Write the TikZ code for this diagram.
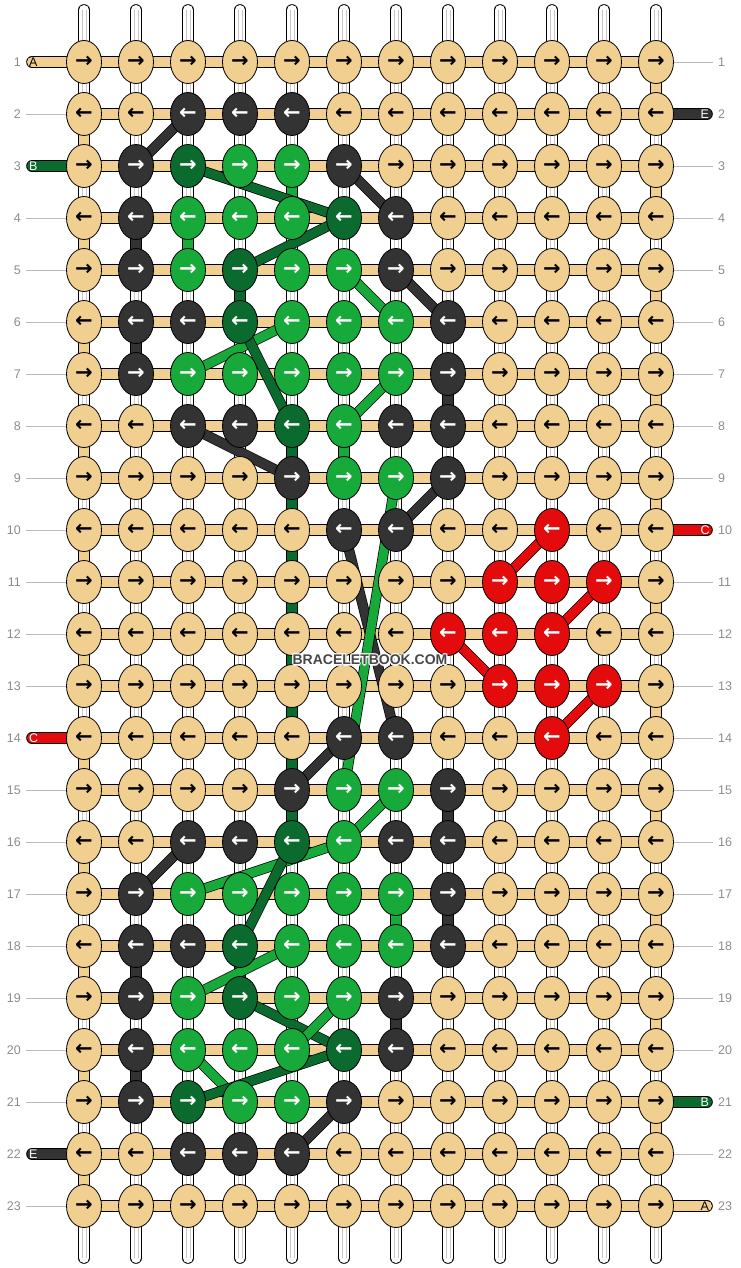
\documentclass[tikz,border=0pt]{standalone}
\usepackage{fontspec}
\setmainfont{Liberation Sans}
\newfontfamily\arrowfont{DejaVu Sans}
\usetikzlibrary{shapes.geometric}
\definecolor{cT}{HTML}{F1CF91}
\definecolor{cK}{HTML}{333333}
\definecolor{cG}{HTML}{18A93B}
\definecolor{cD}{HTML}{0B6A2E}
\definecolor{cR}{HTML}{E30B0B}
\colorlet{aT}{black}
\colorlet{aK}{white}
\colorlet{aG}{white}
\colorlet{aD}{white}
\colorlet{aR}{white}
\definecolor{numgray}{HTML}{8C8C8C}
\definecolor{linegray}{HTML}{BBBBBB}
\pgfdeclarelayer{warplayer}
\pgfdeclarelayer{seglayer}
\pgfdeclarelayer{barlayer}
\pgfdeclarelayer{diaglayer}
\pgfdeclarelayer{toplayer}
\pgfsetlayers{warplayer,seglayer,barlayer,diaglayer,main,toplayer}
\begin{document}
\begin{tikzpicture}[x=1pt,y=-1pt,
  knot/.style={ellipse, draw=black, line width=0.8pt, minimum width=35pt, minimum height=43pt, inner sep=0pt,
    font=\arrowfont\bfseries\fontsize{21}{21}\selectfont},
  warp/.style={line width=0.8pt, draw=black, double=white, double distance=10pt, line cap=round},
  seg/.style={line width=0.8pt, draw=black, double distance=10pt},
  stub/.style={line width=0.8pt, draw=black, double distance=10pt, line cap=round},
  diag/.style={line width=0.7pt, draw=black, double distance=9pt},
  rownum/.style={font=\fontsize{12.5}{12.5}\selectfont, text=numgray, inner sep=0pt},
  stublabel/.style={font=\fontsize{12.5}{12.5}\selectfont, inner sep=0pt, anchor=west},
  guide/.style={draw=linegray, line width=0.7pt},
  wmark/.style={font=\bfseries\fontsize{14}{14}\selectfont, inner sep=0pt}
]
\useasboundingbox (0,0) rectangle (740,1268);

% knots
\foreach \r/\row in {
1/{T,T,T,T,T,T,T,T,T,T,T,T},
2/{T,T,K,K,K,T,T,T,T,T,T,T},
3/{T,K,D,G,G,K,T,T,T,T,T,T},
4/{T,K,G,G,G,D,K,T,T,T,T,T},
5/{T,K,G,D,G,G,K,T,T,T,T,T},
6/{T,K,K,D,G,G,G,K,T,T,T,T},
7/{T,K,G,G,G,G,G,K,T,T,T,T},
8/{T,T,K,K,D,G,K,K,T,T,T,T},
9/{T,T,T,T,K,G,G,K,T,T,T,T},
10/{T,T,T,T,T,K,K,T,T,R,T,T},
11/{T,T,T,T,T,T,T,T,R,R,R,T},
12/{T,T,T,T,T,T,T,R,R,R,T,T},
13/{T,T,T,T,T,T,T,T,R,R,R,T},
14/{T,T,T,T,T,K,K,T,T,R,T,T},
15/{T,T,T,T,K,G,G,K,T,T,T,T},
16/{T,T,K,K,D,G,K,K,T,T,T,T},
17/{T,K,G,G,G,G,G,K,T,T,T,T},
18/{T,K,K,D,G,G,G,K,T,T,T,T},
19/{T,K,G,D,G,G,K,T,T,T,T,T},
20/{T,K,G,G,G,D,K,T,T,T,T,T},
21/{T,K,D,G,G,K,T,T,T,T,T,T},
22/{T,T,K,K,K,T,T,T,T,T,T,T},
23/{T,T,T,T,T,T,T,T,T,T,T,T}}{
  \foreach \k [count=\c] in \row {
    \ifodd\r\relax
      \node[knot, fill=c\k, text=a\k] (k-\r-\c) at ({32+52*\c},{10+52*\r}) {→};
    \else
      \node[knot, fill=c\k, text=a\k] (k-\r-\c) at ({32+52*\c},{10+52*\r}) {←};
    \fi
  }
}

% warp strands
\begin{pgfonlayer}{warplayer}
\foreach \c in {1,...,12}{
  \coordinate (top-\c) at ({32+52*\c},10);
  \coordinate (bot-\c) at ({32+52*\c},1258);
  \draw[warp] (top-\c) -- (bot-\c);
  \draw[draw=black!22, line width=0.7pt] ([xshift=-2pt]top-\c) -- ([xshift=-2pt]bot-\c);
  \draw[draw=black!22, line width=0.7pt] ([xshift=2pt]top-\c) -- ([xshift=2pt]bot-\c);
}
\end{pgfonlayer}

% coloured vertical segments
\begin{pgfonlayer}{seglayer}
\foreach \r in {1,3,...,21}{
  \pgfmathtruncatemacro{\rr}{\r+1}
  \draw[seg, double=cT] (k-\r-12.center) -- (k-\rr-12.center);
}
\foreach \r in {2,4,...,22}{
  \pgfmathtruncatemacro{\rr}{\r+1}
  \draw[seg, double=cT] (k-\r-1.center) -- (k-\rr-1.center);
}
\foreach \x/\r/\c in {G/3/5, K/4/2, G/4/3, D/5/4, K/6/2, K/7/8, D/8/5, G/8/6,
  D/9/5, D/10/5, D/11/5, D/12/5, D/13/5, D/14/5, D/15/5,
  K/15/8, G/17/7, K/17/8, K/18/2, D/18/4, K/19/7, K/20/2}{
  \pgfmathtruncatemacro{\rr}{\r+1}
  \draw[seg, double=c\x] (k-\r-\c.center) -- (k-\rr-\c.center);
}
\end{pgfonlayer}

% weft bars and end stubs
\begin{pgfonlayer}{barlayer}
\foreach \r in {1,...,23}{
  \draw[seg, double=cT] (k-\r-1.center) -- (k-\r-12.center);
}
\foreach \r/\x in {1/T, 3/D, 14/R, 22/K}{
  \coordinate (L-\r) at (32,{10+52*\r});
  \draw[stub, double=c\x] (L-\r) -- (k-\r-1.center);
}
\foreach \r/\x in {2/K, 10/R, 21/D, 23/T}{
  \coordinate (R-\r) at (707,{10+52*\r});
  \draw[stub, double=c\x] (R-\r) -- (k-\r-12.center);
}
\end{pgfonlayer}

% diagonal strands
\begin{pgfonlayer}{diaglayer}
\foreach \x/\a/\b in {K/2-3/3-2, D/3-3/4-6, K/3-6/4-7, D/4-6/5-4, K/5-7/6-8, G/5-6/6-7,
  G/6-5/7-3, D/6-4/8-5, G/7-7/8-6, K/8-3/9-5, K/9-8/10-7,
  K/10-6/14-7, G/9-7/15-6, K/14-6/15-5,
  G/15-7/16-6, K/16-3/17-2, G/16-6/17-3, D/16-5/18-4, G/18-5/19-3,
  D/19-4/20-6, G/19-6/20-5, G/20-3/21-4, D/20-6/21-3, K/21-6/22-5,
  R/10-10/11-9, R/11-11/12-10, R/12-8/13-9, R/13-11/14-10}{
  \draw[diag, double=c\x] (k-\a.center) -- (k-\b.center);
}
\end{pgfonlayer}

% stub labels
\foreach \r/\t/\lab in {1/black/A, 3/white/B, 14/white/C, 22/white/E}{
  \node[stublabel, text=\t] (ll-\r) at (29,{10.5+52*\r}) {\lab};
}
\foreach \r/\t/\lab in {2/white/E, 10/white/C, 21/white/B, 23/black/A}{
  \node[stublabel, text=\t] (rl-\r) at (700.5,{10.5+52*\r}) {\lab};
}

% guide lines
\foreach \r in {2,4,5,6,7,8,9,10,11,12,13,15,16,17,18,19,20,21,23}{
  \coordinate (gl-\r) at (26,{10+52*\r});
  \draw[guide] (gl-\r) -- (k-\r-1.west);
}
\foreach \r in {1,3,4,5,6,7,8,9,11,12,13,14,15,16,17,18,19,20,22}{
  \coordinate (gr-\r) at (713,{10+52*\r});
  \draw[guide] (k-\r-12.east) -- (gr-\r);
}

% row numbers
\foreach \r in {1,...,23}{
  \node[rownum, anchor=east] (nl-\r) at (21,{10.5+52*\r}) {\r};
  \node[rownum, anchor=west] (nr-\r) at (718,{10.5+52*\r}) {\r};
}

% watermark with light halo
\begin{pgfonlayer}{toplayer}
\foreach \dx/\dy in {-1.2/0, 1.2/0, 0/-1.2, 0/1.2, -0.9/-0.9, 0.9/-0.9, -0.9/0.9, 0.9/0.9}{
  \node[wmark, text=white, text opacity=0.8] at ({370+\dx},{660+\dy}) {BRACELETBOOK.COM};
}
\node[wmark, text=black!72] (wm) at (370,660) {BRACELETBOOK.COM};
\end{pgfonlayer}
\end{tikzpicture}
\end{document}
